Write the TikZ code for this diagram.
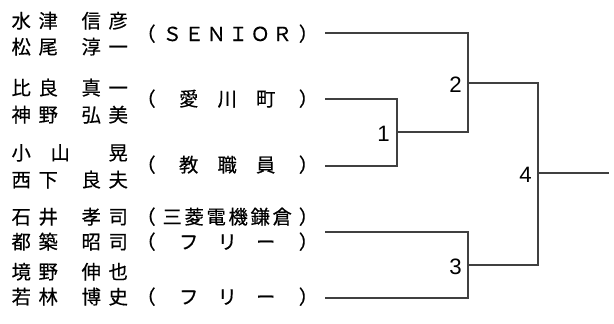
\documentclass[tikz,border=0pt]{standalone}
\usepackage{fontspec}
\newfontfamily\jpfont[FakeBold=0.4]{Noto Sans CJK JP}
\newfontfamily\numfont{Liberation Sans}
\usetikzlibrary{calc,positioning}

% one character cell of a name, and a zero width centred character
\newcommand{\slot}[1]{\makebox[0.81cm]{#1}}
\newcommand{\namegap}{\hspace{0.48cm}}
\newcommand{\ch}[1]{\makebox[0pt]{#1}}
\newcommand{\lp}{\ch{\kern-0.44em（}}
\newcommand{\rp}{\ch{）\kern-0.44em}}
\newcommand{\club}[1]{\makebox[4.62cm][s]{#1}}

\tikzset{
  name text/.style={font=\jpfont\fontsize{16.5}{19}\selectfont, inner sep=0pt, anchor=base west},
  club text/.style={font=\jpfont\fontsize{16.5}{19}\selectfont, inner sep=0pt, anchor=base west},
  match label/.style={font=\numfont\fontsize{19}{22}\selectfont, inner sep=0pt, anchor=base east},
  bracket line/.style={line width=1.1pt, draw=black!75},
}

\begin{document}
\begin{tikzpicture}[x=0.03cm,y=-0.03cm]
  \useasboundingbox (0,0) rectangle (614,323);

  % Marking the players
  \node (p11) [name text] at (7.5,28) {\slot{水}\slot{津}\namegap\slot{信}\slot{彦}};
  \node (p12) [name text] at (7.5,54) {\slot{松}\slot{尾}\namegap\slot{淳}\slot{一}};
  \node (p21) [name text] at (7.5,95) {\slot{比}\slot{良}\namegap\slot{真}\slot{一}};
  \node (p22) [name text] at (7.5,122) {\slot{神}\slot{野}\namegap\slot{弘}\slot{美}};
  \node (p31) [name text] at (7.5,160) {\slot{小}\slot{\hspace{0.72cm}山}\namegap\slot{}\slot{晃}};
  \node (p32) [name text] at (7.5,187) {\slot{西}\slot{下}\namegap\slot{良}\slot{夫}};
  \node (p41) [name text] at (7.5,224) {\slot{石}\slot{井}\namegap\slot{孝}\slot{司}};
  \node (p42) [name text] at (7.5,249) {\slot{都}\slot{築}\namegap\slot{昭}\slot{司}};
  \node (p51) [name text] at (7.5,279) {\slot{境}\slot{野}\namegap\slot{伸}\slot{也}};
  \node (p52) [name text] at (7.5,304) {\slot{若}\slot{林}\namegap\slot{博}\slot{史}};

  % Marking the clubs
  \node (c1) [club text] at (150,41) {\club{\lp\hfill\ch{Ｓ}\hfill\ch{Ｅ}\hfill\ch{Ｎ}\hfill\ch{Ｉ}\hfill\ch{Ｏ}\hfill\ch{Ｒ}\hfill\rp}};
  \node (c2) [club text] at (150,106) {\club{\lp\hfill\ch{愛}\hfill\ch{川}\hfill\ch{町}\hfill\rp}};
  \node (c3) [club text] at (150,172) {\club{\lp\hfill\ch{教}\hfill\ch{職}\hfill\ch{員}\hfill\rp}};
  \node (c41) [club text] at (150,224) {\club{\lp\hfill\ch{三}\hfill\ch{菱}\hfill\ch{電}\hfill\ch{機}\hfill\ch{鎌}\hfill\ch{倉}\hfill\rp}};
  \node (c42) [club text] at (150,249) {\club{\lp\hfill\ch{フ}\hfill\ch{リ}\hfill\ch{ー}\hfill\rp}};
  \node (c5) [club text] at (150,304) {\club{\lp\hfill\ch{フ}\hfill\ch{リ}\hfill\ch{ー}\hfill\rp}};

  % Entry points and matches
  \coordinate (s1) at (325,33);
  \coordinate (s2) at (325,99);
  \coordinate (s3) at (325,166);
  \coordinate (s4) at (325,232);
  \coordinate (s5) at (325,298);
  \coordinate (m1) at (397,132);
  \coordinate (m2) at (468,83);
  \coordinate (m3) at (468,265);
  \coordinate (m4) at (538,173);
  \coordinate (w) at (609,173);

  % Drawing the bracket
  \draw [bracket line] (s2) -| (m1) |- (s3);
  \draw [bracket line] (m1) -| (m2) |- (s1);
  \draw [bracket line] (s4) -| (m3) |- (s5);
  \draw [bracket line] (m2) -| (m4) |- (m3);
  \draw [bracket line] (m4) -- (w);

  % Marking the match numbers
  \node (n1) [match label] at ($(m1)+(-7,9)$) {1};
  \node (n2) [match label] at ($(m2)+(-6,9)$) {2};
  \node (n3) [match label] at ($(m3)+(-6,9)$) {3};
  \node (n4) [match label] at ($(m4)+(-6,9)$) {4};
\end{tikzpicture}
\end{document}
